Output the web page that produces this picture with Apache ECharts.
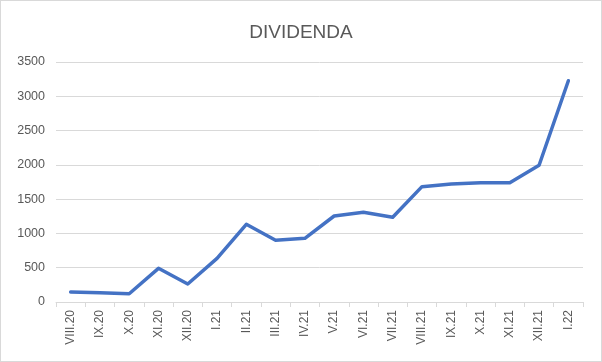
<!DOCTYPE html>
<html>
<head>
<meta charset="utf-8">
<script src="https://cdn.jsdelivr.net/npm/echarts@6/dist/echarts.min.js"></script>
<style>
html,body{margin:0;padding:0;background:#fff;}
#c{width:600px;height:360px;border:1px solid #d9d9d9;}
</style>
</head>
<body>
<div id="c"></div>
<script>
const categories = ['VIII.20','IX.20','X.20','XI.20','XII.20','I.21','II.21','III.21','IV.21','V.21','VI.21','VII.21','VIII.21','IX.21','X.21','XI.21','XII.21','I.22'];
const dividenda = [146,136,121,491,262,637,1133,900,929,1254,1308,1235,1682,1721,1740,1740,1994,3227];
const yTicks = { min: 0, max: 3500, interval: 500 };
const chart = echarts.init(document.getElementById('c'), null, {renderer:'canvas'});
chart.setOption({
  animation:false,
  backgroundColor:'#fff',
  title:{text:'DIVIDENDA',left:'center',top:17,textStyle:{fontFamily:'Liberation Sans, Arial',fontSize:19,fontWeight:'normal',color:'#595959'}},
  grid:{left:55,right:18,top:61,bottom:59},
  xAxis:{type:'category',data:categories,boundaryGap:true,
    axisLine:{lineStyle:{color:'#d9d9d9',width:1}},
    axisTick:{show:true,alignWithLabel:false,length:5,lineStyle:{color:'#d9d9d9'}},
    axisLabel:{rotate:90,interval:0,fontFamily:'Liberation Sans, Arial',fontSize:12,color:'#595959',margin:8}},
  yAxis:{type:'value',min:yTicks.min,max:yTicks.max,interval:yTicks.interval,
    axisLine:{show:false},axisTick:{show:false},
    splitLine:{lineStyle:{color:'#d9d9d9',width:1}},
    axisLabel:{fontFamily:'Liberation Sans, Arial',fontSize:12.5,color:'#595959',margin:11,formatter:v=>String(v)}},
  series:[{type:'line',data:dividenda,symbol:'none',lineStyle:{color:'#4472C4',width:3.5,cap:'round',join:'round'}}]
});
</script>
</body>
</html>
